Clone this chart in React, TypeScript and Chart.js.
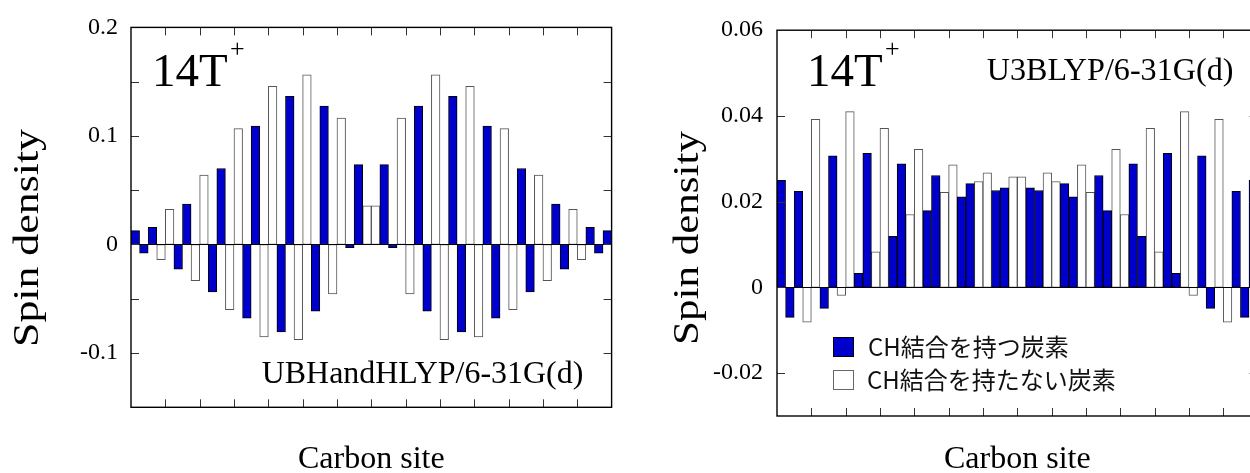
import React, { useEffect, useRef } from "react";
import { Chart, registerables } from "chart.js";

Chart.register(...registerables);

// ---------- data ----------
const carbonSites = [
  "1", "2", "3", "4", "5", "6", "7", "8", "9", "10", "11", "12", "13", "14",
  "15", "16", "17", "18", "19", "20", "21", "22", "23", "24", "25", "26", "27", "28",
  "29", "30", "31", "32", "33", "34", "35", "36", "37", "38", "39", "40", "41", "42",
  "43", "44", "45", "46", "47", "48", "49", "50", "51", "52", "53", "54", "55", "56",
];

// 1 = carbon with a C-H bond, 0 = carbon without a C-H bond
const hasCHBond = [
  1, 1, 1, 0, 0, 1, 1, 0, 0, 1, 1, 0, 0, 1, 1, 0, 0, 1, 1, 0, 0, 1, 1, 0, 0, 1, 1, 0,
  0, 1, 1, 0, 0, 1, 1, 0, 0, 1, 1, 0, 0, 1, 1, 0, 0, 1, 1, 0, 0, 1, 1, 0, 0, 1, 1, 1,
];

const ubhandhlypSpin = [
  0.0127, -0.0079, 0.0158, -0.0139, 0.0324, -0.0227, 0.0373, -0.0333, 0.0639, -0.0436,
  0.07, -0.06, 0.1067, -0.0679, 0.1091, -0.0852, 0.1458, -0.0806, 0.1364, -0.0876,
  0.1564, -0.0615, 0.1276, -0.0455, 0.1164, -0.003, 0.0736, 0.0355,
  0.0355, 0.0736, -0.003, 0.1164, -0.0455, 0.1276, -0.0615, 0.1564, -0.0876, 0.1364,
  -0.0806, 0.1458, -0.0852, 0.1091, -0.0679, 0.1067, -0.06, 0.07, -0.0436, 0.0639,
  -0.0333, 0.0373, -0.0227, 0.0324, -0.0139, 0.0158, -0.0079, 0.0127,
];

const u3blypSpin = [
  0.025, -0.007, 0.0224, -0.0081, 0.0392, -0.0049, 0.0307, -0.0019, 0.041, 0.0033,
  0.0313, 0.0083, 0.0371, 0.0119, 0.0288, 0.017, 0.0322, 0.0179, 0.0261, 0.0222,
  0.0286, 0.0211, 0.0242, 0.0247, 0.0267, 0.0226, 0.0232, 0.0258,
  0.0258, 0.0232, 0.0226, 0.0267, 0.0247, 0.0242, 0.0211, 0.0286, 0.0222, 0.0261,
  0.0179, 0.0322, 0.017, 0.0288, 0.0119, 0.0371, 0.0083, 0.0313, 0.0033, 0.041,
  -0.0019, 0.0307, -0.0049, 0.0392, -0.0081, 0.0224, -0.007, 0.025,
];

const ubhandhlypYTicks = [-0.15, -0.1, -0.05, 0, 0.05, 0.1, 0.15, 0.2];
const ubhandhlypYLabels = ["", "-0.1", "", "0", "", "0.1", "", "0.2"];
const u3blypYTicks = [-0.03, -0.02, 0, 0.02, 0.04, 0.06];
const u3blypYLabels = ["", "-0.02", "0", "0.02", "0.04", "0.06"];

const seriesNames = ["CH結合を持つ炭素", "CH結合を持たない炭素"];
const moleculeName = "14T";
const moleculeCharge = "+";
const xTitle = "Carbon site";
const yTitle = "Spin density";
const sitesPerXTick = 4;

// ---------- styling / layout ----------
const CANVAS_W = 640;
const CANVAS_H = 473;
const SERIF = '"Liberation Serif", "Times New Roman", serif';
const CJK = '"Noto Sans CJK JP", "Noto Sans", sans-serif';
const BLUE = "#0000CC";

type Panel = {
  spin: number[];
  yTicks: number[];
  yLabels: string[];
  method: string;
  area: { left: number; right: number; top: number; bottom: number };
  labelPad: number;
  molecule: { x: number; base: number };
  plus: { x: number; base: number };
  methodPos: { x: number; base: number; width: number };
  yTitlePos: { cx: number; cy: number; len: number };
  legend?: { x: number; y1: number; y2: number };
};

const leftPanel: Panel = {
  spin: ubhandhlypSpin,
  yTicks: ubhandhlypYTicks,
  yLabels: ubhandhlypYLabels,
  method: "UBHandHLYP/6-31G(d)",
  area: { left: 131, right: 611.6, top: 22.3, bottom: 407.3 },
  labelPad: 13,
  molecule: { x: 152, base: 86 },
  plus: { x: 230, base: 57 },
  methodPos: { x: 261.7, base: 383.3, width: 321.6 },
  yTitlePos: { cx: 29, cy: 238, len: 218 },
};

const rightPanel: Panel = {
  spin: u3blypSpin,
  yTicks: u3blypYTicks,
  yLabels: u3blypYLabels,
  method: "U3BLYP/6-31G(d)",
  area: { left: 137, right: 617.6, top: 30.2, bottom: 416 },
  labelPad: 14,
  molecule: { x: 167, base: 86 },
  plus: { x: 245, base: 57 },
  methodPos: { x: 346.7, base: 80, width: 246.7 },
  yTitlePos: { cx: 49, cy: 238, len: 214 },
  legend: { x: 193, y1: 337, y2: 370 },
};

function drawFitted(
  ctx: CanvasRenderingContext2D,
  text: string,
  x: number,
  y: number,
  font: string,
  width: number | null,
  align: CanvasTextAlign,
  baseline: CanvasTextBaseline,
  rotate = 0
) {
  ctx.save();
  ctx.font = font;
  const w = ctx.measureText(text).width;
  const sx = width ? width / w : 1;
  ctx.translate(x, y);
  if (rotate) ctx.rotate(rotate);
  ctx.scale(sx, 1);
  ctx.textAlign = align;
  ctx.textBaseline = baseline;
  ctx.fillStyle = "#000";
  ctx.fillText(text, 0, 0);
  ctx.restore();
}

function makeChart(canvas: HTMLCanvasElement, p: Panel) {
  const blue = p.spin.map((v, i) => (hasCHBond[i] ? v : null));
  const white = p.spin.map((v, i) => (hasCHBond[i] ? null : v));

  const decor = {
    id: "decor",
    afterDatasetsDraw(chart: any) {
      const { ctx, chartArea: a, scales } = chart;
      const xs = scales.x;
      const ys = scales.y;
      ctx.save();
      // zero line
      const y0 = Math.round(ys.getPixelForValue(0)) + 0.5;
      ctx.strokeStyle = "#000";
      ctx.lineWidth = 1;
      ctx.beginPath();
      ctx.moveTo(a.left, y0);
      ctx.lineTo(a.right, y0);
      ctx.stroke();
      // inward ticks
      ctx.strokeStyle = "#333";
      ctx.lineWidth = 1;
      const tl = 8;
      ctx.beginPath();
      p.yTicks.forEach((v, i) => {
        if (i === 0 || i === p.yTicks.length - 1) return;
        const y = Math.round(ys.getPixelForValue(v)) + 0.5;
        ctx.moveTo(a.left, y);
        ctx.lineTo(a.left + tl, y);
        ctx.moveTo(a.right, y);
        ctx.lineTo(a.right - tl, y);
      });
      for (let k = sitesPerXTick; k < carbonSites.length; k += sitesPerXTick) {
        const x =
          Math.round((xs.getPixelForValue(k - 1) + xs.getPixelForValue(k)) / 2) + 0.5;
        ctx.moveTo(x, a.top);
        ctx.lineTo(x, a.top + tl);
        ctx.moveTo(x, a.bottom);
        ctx.lineTo(x, a.bottom - tl);
      }
      ctx.stroke();
      // frame
      ctx.strokeStyle = "#000";
      ctx.lineWidth = 1.4;
      ctx.strokeRect(a.left, a.top, a.right - a.left, a.bottom - a.top);
      ctx.restore();

      // texts
      drawFitted(ctx, moleculeName, p.molecule.x, p.molecule.base, `47px ${SERIF}`, null, "left", "alphabetic");
      drawFitted(ctx, moleculeCharge, p.plus.x, p.plus.base, `26px ${SERIF}`, null, "left", "alphabetic");
      drawFitted(ctx, p.method, p.methodPos.x, p.methodPos.base, `32px ${SERIF}`, p.methodPos.width, "left", "alphabetic");
      drawFitted(ctx, xTitle, (a.left + a.right) / 2, 468, `32px ${SERIF}`, null, "center", "alphabetic");
      drawFitted(ctx, yTitle, p.yTitlePos.cx, p.yTitlePos.cy, `36px ${SERIF}`, p.yTitlePos.len, "center", "middle", -Math.PI / 2);

      if (p.legend) {
        const L = p.legend;
        const ds = chart.data.datasets;
        ctx.save();
        ctx.fillStyle = BLUE;
        ctx.fillRect(L.x, L.y1, 21, 20);
        ctx.strokeStyle = "#000";
        ctx.lineWidth = 1;
        ctx.strokeRect(L.x + 0.5, L.y1 + 0.5, 20, 19);
        ctx.fillStyle = "#fff";
        ctx.fillRect(L.x, L.y2, 21, 20);
        ctx.strokeStyle = "#666";
        ctx.strokeRect(L.x + 0.5, L.y2 + 0.5, 20, 19);
        ctx.font = `24px ${CJK}`;
        ctx.fillStyle = "#111";
        ctx.textAlign = "left";
        ctx.textBaseline = "middle";
        ctx.fillText(ds[0].label, L.x + 35, L.y1 + 10);
        ctx.fillText(ds[1].label, L.x + 34, L.y2 + 10);
        ctx.restore();
      }
    },
  };

  return new Chart(canvas, {
    type: "bar",
    data: {
      labels: carbonSites,
      datasets: [
        {
          label: seriesNames[0],
          data: blue,
          backgroundColor: BLUE,
          borderColor: "#000",
          borderWidth: 1,
          borderSkipped: false,
          grouped: false,
          barPercentage: 1,
          categoryPercentage: 1,
        },
        {
          label: seriesNames[1],
          data: white,
          backgroundColor: "#fff",
          borderColor: "#555",
          borderWidth: 1,
          borderSkipped: false,
          grouped: false,
          barPercentage: 1,
          categoryPercentage: 1,
        },
      ],
    } as any,
    options: {
      animation: false,
      responsive: false,
      devicePixelRatio: 1,
      layout: {
        padding: {
          left: 0,
          top: p.area.top,
          right: CANVAS_W - p.area.right,
          bottom: CANVAS_H - p.area.bottom,
        },
      },
      plugins: {
        legend: { display: false },
        tooltip: { enabled: false },
        title: { display: false },
      },
      scales: {
        x: {
          display: false,
          offset: true,
          grid: { display: false },
        },
        y: {
          min: p.yTicks[0],
          max: p.yTicks[p.yTicks.length - 1],
          afterBuildTicks: (s: any) => {
            s.ticks = p.yTicks.map((v) => ({ value: v }));
          },
          afterFit: (s: any) => {
            s.width = p.area.left;
          },
          grid: { display: false, drawTicks: false },
          border: { display: false },
          ticks: {
            padding: p.labelPad,
            color: "#000",
            font: { family: SERIF, size: 24 },
            callback: (_v: any, i: number) => p.yLabels[i],
          },
        },
      },
    } as any,
    plugins: [decor],
  });
}

export default function App() {
  const leftRef = useRef<HTMLCanvasElement>(null);
  const rightRef = useRef<HTMLCanvasElement>(null);

  useEffect(() => {
    const c1 = makeChart(leftRef.current!, leftPanel);
    const c2 = makeChart(rightRef.current!, rightPanel);
    return () => {
      c1.destroy();
      c2.destroy();
    };
  }, []);

  return (
    <div
      style={{
        position: "fixed",
        left: 0,
        top: 0,
        width: 1250,
        height: 473,
        overflow: "hidden",
        background: "#fff",
      }}
    >
      <canvas
        ref={leftRef}
        width={CANVAS_W}
        height={CANVAS_H}
        style={{ position: "absolute", left: 0, top: 0 }}
      />
      <canvas
        ref={rightRef}
        width={CANVAS_W}
        height={CANVAS_H}
        style={{ position: "absolute", left: 640, top: 0 }}
      />
    </div>
  );
}
